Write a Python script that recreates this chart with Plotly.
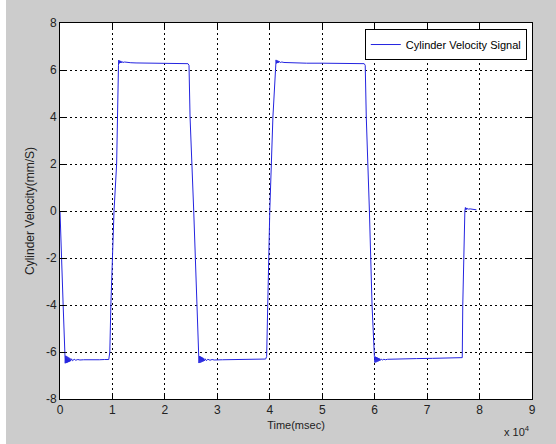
import plotly.graph_objects as go

# Time in msec, velocity in mm/s
time_ms = [
    0, 100, 300, 600, 950,
    1000, 1100, 1200, 1300, 1400, 1500, 1600, 1700, 1800, 1900, 2000, 2200, 2400, 2700, 3000, 3400, 3800,
    4500, 5500, 6500, 7500, 8500, 9300,
    9500, 9700, 10300, 10800, 11150,
    11200, 11300, 11400, 11500, 11600, 11700, 11800, 12000, 12300, 12700, 13500, 14500,
    17000, 20000, 23000, 24400,
    24600, 24800, 25500, 26000, 26400,
    26500, 26600, 26700, 26800, 26900, 27000, 27100, 27200, 27300, 27400, 27500, 27700, 27900, 28200, 28600, 29000, 29400,
    31000, 33000, 35000, 37000, 39200,
    39400, 39600, 40000, 40600, 41100,
    41200, 41300, 41400, 41500, 41600, 41700, 41800, 42000, 42300, 42700, 43500, 44500,
    47000, 50000, 53000, 56000, 58000,
    58200, 58400, 59000, 59500, 59950,
    60050, 60150, 60250, 60350, 60450, 60550, 60650, 60750, 60850, 60950, 61050, 61250, 61450, 61750, 62050, 62450, 62850,
    65000, 68000, 71000, 74000, 76700,
    76800, 77000, 77200, 77300,
    77400, 77500, 77600, 77700, 77900, 78200, 78600, 79000, 79400,
]
velocity = [
    0.0, -1.0, -2.0, -4.0, -6.1,
    -6.48, -6.16, -6.47, -6.18, -6.45, -6.21, -6.43, -6.24, -6.41, -6.27, -6.39, -6.29, -6.37, -6.31, -6.35, -6.32, -6.34,
    -6.33, -6.34, -6.33, -6.33, -6.32, -6.32,
    -6.0, -4.0, 0.0, 2.0, 6.2,
    6.42, 6.28, 6.40, 6.30, 6.38, 6.31, 6.36, 6.32, 6.34, 6.32, 6.31, 6.30,
    6.29, 6.29, 6.28, 6.27,
    6.2, 4.0, 0.0, -3.0, -6.2,
    -6.47, -6.17, -6.46, -6.19, -6.44, -6.21, -6.42, -6.24, -6.40, -6.27, -6.38, -6.29, -6.37, -6.31, -6.35, -6.32, -6.34,
    -6.33, -6.32, -6.31, -6.31, -6.30,
    -6.2, -4.0, 0.0, 4.0, 6.25,
    6.43, 6.28, 6.41, 6.30, 6.39, 6.31, 6.37, 6.32, 6.34, 6.32, 6.31, 6.30,
    6.29, 6.29, 6.28, 6.28, 6.27,
    6.2, 4.0, 0.0, -4.0, -6.2,
    -6.45, -6.20, -6.44, -6.22, -6.42, -6.24, -6.40, -6.26, -6.38, -6.28, -6.36, -6.30, -6.34, -6.31, -6.33, -6.31, -6.31,
    -6.30, -6.28, -6.27, -6.25, -6.24,
    -4.0, -1.0, 0.0, 0.15,
    0.05, 0.13, 0.07, 0.11, 0.08, 0.09, 0.07, 0.06, 0.05,
]

x_tick_vals = [0, 10000, 20000, 30000, 40000, 50000, 60000, 70000, 80000, 90000]
x_tick_text = ["0", "1", "2", "3", "4", "5", "6", "7", "8", "9"]
y_tick_vals = [-8, -6, -4, -2, 0, 2, 4, 6, 8]
y_tick_text = ["-8", "-6", "-4", "-2", "0", "2", "4", "6", "8"]

fig = go.Figure()
fig.add_trace(go.Scatter(
    x=time_ms, y=velocity, mode="lines",
    name="Cylinder Velocity Signal",
    line=dict(color="#2424e0", width=1),
))

font_family = "Liberation Sans, Arial, sans-serif"
axis_common = dict(
    showline=True, linecolor="black", linewidth=1, mirror="allticks",
    ticks="inside", ticklen=5, tickcolor="black",
    showgrid=True, gridcolor="black", gridwidth=1, griddash="2px,3px",
    zeroline=False,
    tickfont=dict(family=font_family, size=12, color="#222222"),
)

fig.update_layout(
    width=556, height=444,
    margin=dict(l=60, r=24, t=23, b=45),
    paper_bgcolor="#cccccc",
    plot_bgcolor="white",
    showlegend=True,
    legend=dict(
        x=0.989, y=0.984, xanchor="right", yanchor="top",
        bgcolor="white", bordercolor="black", borderwidth=1,
        font=dict(family=font_family, size=11, color="black"),
        itemwidth=30,
    ),
    xaxis=dict(
        range=[0, 90000], tickvals=x_tick_vals, ticktext=x_tick_text,
        title=dict(text="Time(msec)", font=dict(family=font_family, size=11, color="#222222"), standoff=4),
        **axis_common,
    ),
    yaxis=dict(
        range=[-8, 8], tickvals=y_tick_vals, ticktext=y_tick_text,
        title=dict(text="Cylinder Velocity(mm/S)", font=dict(family=font_family, size=12, color="#222222"), standoff=8),
        **axis_common,
    ),
    annotations=[
        dict(
            text="x 10<sup>4</sup>", xref="paper", yref="paper",
            x=1.0, y=-0.062, xanchor="right", yanchor="top", showarrow=False,
            font=dict(family=font_family, size=11, color="#222222"),
        )
    ],
    shapes=[
        dict(type="rect", xref="paper", yref="paper",
             x0=-60/472, x1=-54/472, y0=-45/376, y1=1 + 23/376,
             fillcolor="white", line=dict(width=0), layer="below"),
    ],
)

fig.write_html("out.html")
